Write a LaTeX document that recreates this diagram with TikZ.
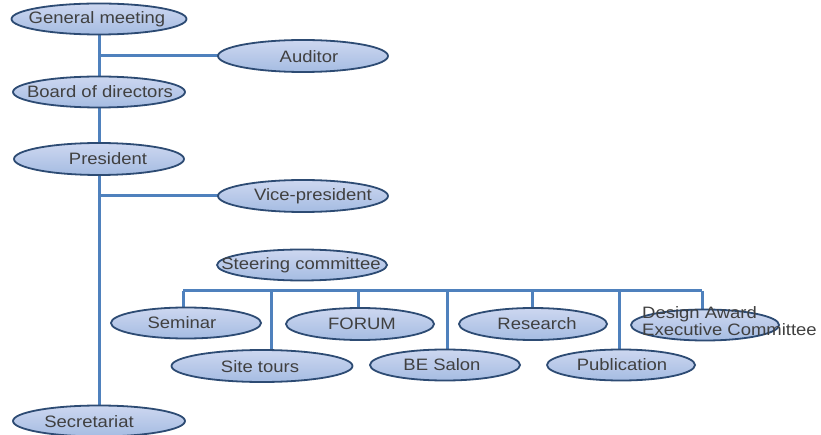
\documentclass[tikz,border=0pt]{standalone}
\usepackage{fontspec}
\setmainfont{Liberation Sans}[FakeStretch=1.12]
\usetikzlibrary{shapes.geometric}
\pgfdeclarelayer{background}
\pgfsetlayers{background,main}
\definecolor{conncol}{RGB}{79,129,189}
\definecolor{ellborder}{RGB}{45,75,115}
\definecolor{elltop}{RGB}{205,215,240}
\definecolor{ellbot}{RGB}{165,188,226}
\definecolor{txtcol}{RGB}{64,64,64}
\tikzset{
  ell/.style={ellipse, draw=ellborder, line width=1.8pt, top color=elltop, bottom color=ellbot, inner sep=0pt, minimum height=31},
  txt/.style={text=txtcol, font=\fontsize{16.5}{17}\selectfont, inner sep=0pt},
  conn/.style={draw=conncol, line width=3pt}
}
\begin{document}
\begin{tikzpicture}[x=1pt,y=-1pt]
\useasboundingbox (0,0) rectangle (821,435);
% ellipses
\node[ell, minimum width=175] (gm) at (99,19) {};
\node[ell, minimum width=170, minimum height=32] (aud) at (303,56) {};
\node[ell, minimum width=172] (bod) at (99,92) {};
\node[ell, minimum width=170, minimum height=32] (pres) at (99,159) {};
\node[ell, minimum width=170, minimum height=32] (vp) at (303,196) {};
\node[ell, minimum width=170] (steer) at (302,265) {};
\node[ell, minimum width=150] (sem) at (186,323) {};
\node[ell, minimum width=148, minimum height=32] (forum) at (360,324) {};
\node[ell, minimum width=148, minimum height=32] (res) at (533,324) {};
\node[ell, minimum width=148] (des) at (705,325) {};
\node[ell, minimum width=181, minimum height=32] (site) at (262,366) {};
\node[ell, minimum width=150] (salon) at (445,365) {};
\node[ell, minimum width=148] (pub) at (621,365) {};
\node[ell, minimum width=172] (sec) at (99,421) {};
% texts
\node[txt] (tgm) at (97,19) {General meeting};
\node[txt] (taud) at (309,57) {Auditor};
\node[txt] (tbod) at (100,92) {Board of directors};
\node[txt] (tpres) at (108,159) {President};
\node[txt] (tvp) at (313,196) {Vice-president};
\node[txt] (tsteer) at (301,265) {Steering committee};
\node[txt] (tsem) at (182,323) {Seminar};
\node[txt] (tforum) at (362,324) {FORUM};
\node[txt] (tres) at (537,324) {Research};
\node[txt, anchor=west, align=left, font=\fontsize{16.5}{11}\selectfont] (tdes) at (642,321) {Design Award\\Executive Committee};
\node[txt] (tsite) at (260,367) {Site tours};
\node[txt] (tsalon) at (442,365) {BE Salon};
\node[txt] (tpub) at (622,365) {Publication};
\node[txt] (tsec) at (89,422) {Secretariat};
% connectors
\begin{pgfonlayer}{background}
\draw[conn] (gm.center) -- (bod.center);
\draw[conn] (bod.center) -- (pres.center);
\draw[conn] (pres.center) -- (sec.center);
\draw[conn] (aud.center) -- (aud.center -| gm.center);
\draw[conn] (vp.center) -- (vp.center -| pres.center);
\coordinate (bus) at (0,291);
\draw[conn] ([xshift=-3pt]sem.center |- bus) -- ([xshift=-3pt]des.center |- bus);
\draw[conn] ([xshift=-3pt]sem.center |- bus) -- ([xshift=-3pt]sem.center);
\draw[conn] ([xshift=9pt]site.center |- bus) -- ([xshift=9pt]site.center);
\draw[conn] ([xshift=-2pt]forum.center |- bus) -- ([xshift=-2pt]forum.center);
\draw[conn] ([xshift=2pt]salon.center |- bus) -- ([xshift=2pt]salon.center);
\draw[conn] ([xshift=-1pt]res.center |- bus) -- ([xshift=-1pt]res.center);
\draw[conn] ([xshift=-2pt]pub.center |- bus) -- ([xshift=-2pt]pub.center);
\draw[conn] ([xshift=-3pt]des.center |- bus) -- ([xshift=-3pt]des.center);
\end{pgfonlayer}
\end{tikzpicture}
\end{document}
